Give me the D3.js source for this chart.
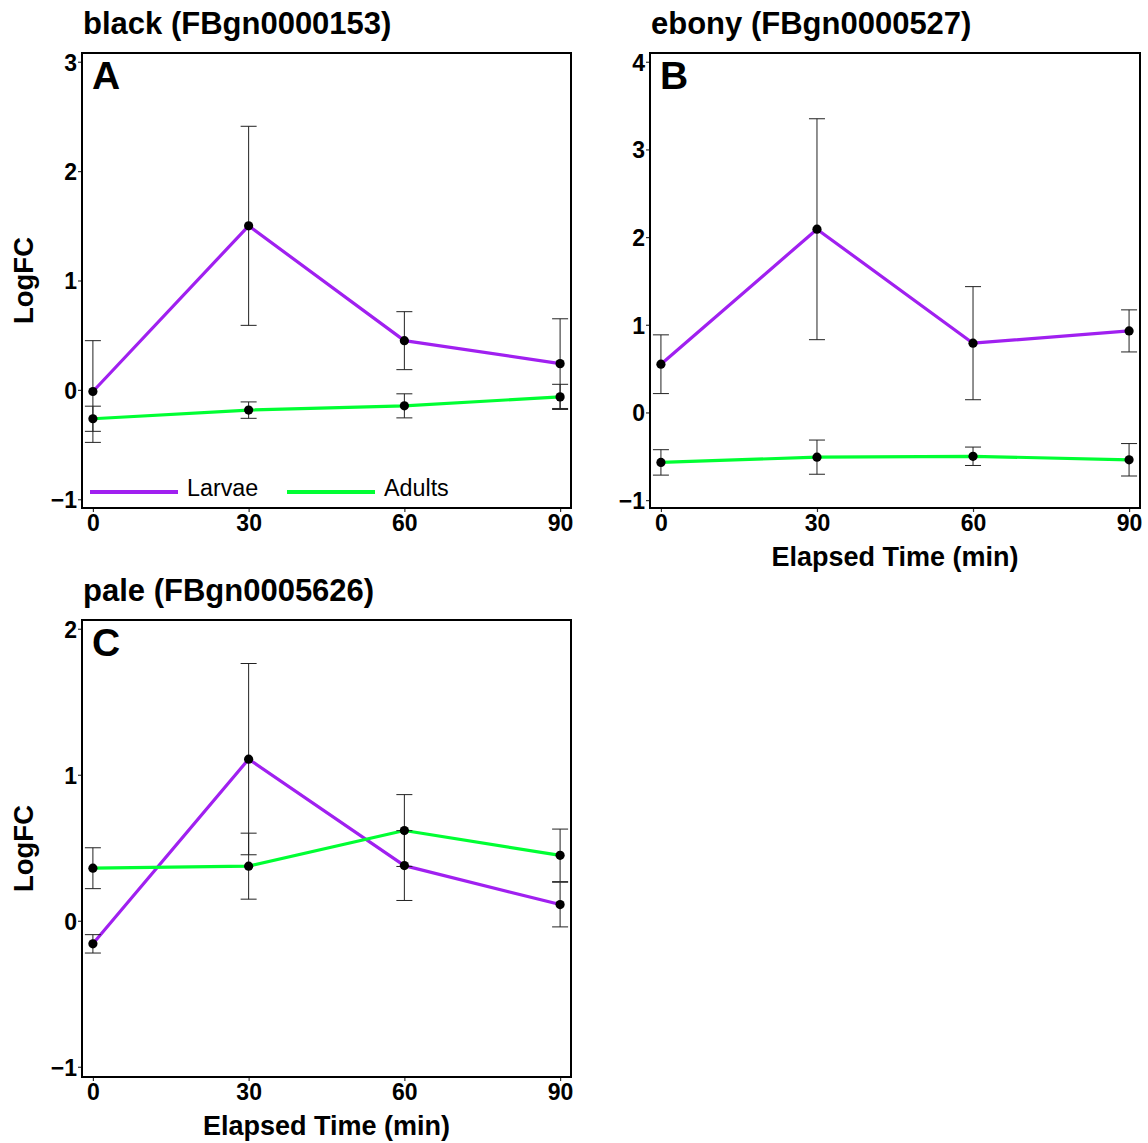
<!DOCTYPE html>
<html>
<head>
<meta charset="utf-8">
<script src="https://cdn.jsdelivr.net/npm/d3@7"></script>
<style>
  html, body { margin: 0; padding: 0; background: #fff; }
  svg { display: block; font-family: "Liberation Sans", Arial, sans-serif; }
</style>
</head>
<body>
<svg id="chart" width="1148" height="1143"></svg>
<script>
// ---- data ----
const times = [0, 30, 60, 90];
const xTicks = [0, 30, 60, 90];
const seriesNames = ["Larvae", "Adults"];
const seriesColors = ["#a020f0", "#00ff33"];

const blackLarvae    = [-0.015, 1.50, 0.45, 0.24];
const blackLarvaeErr = [0.465, 0.91, 0.265, 0.41];
const blackAdults    = [-0.264, -0.185, -0.146, -0.064];
const blackAdultsErr = [0.115, 0.075, 0.11, 0.115];

const ebonyLarvae    = [0.55, 2.09, 0.79, 0.93];
const ebonyLarvaeErr = [0.335, 1.26, 0.645, 0.24];
const ebonyAdults    = [-0.57, -0.51, -0.50, -0.54];
const ebonyAdultsErr = [0.145, 0.195, 0.105, 0.185];

const paleLarvae     = [-0.158, 1.107, 0.378, 0.111];
const paleLarvaeErr  = [0.063, 0.655, 0.239, 0.153];
const paleAdults     = [0.36, 0.374, 0.618, 0.448];
const paleAdultsErr  = [0.14, 0.226, 0.246, 0.18];

const yTicksA = [-1, 0, 1, 2, 3];
const yTicksB = [-1, 0, 1, 2, 3, 4];
const yTicksC = [-1, 0, 1, 2];

const panels = [
  { title: "black (FBgn0000153)", letter: "A", x0: 82, x1: 571, y0: 53, y1: 508,
    yDomain: [-1.08, 3.08], yTicks: yTicksA, ylab: true, xlab: false, legend: true,
    larvae: blackLarvae, larvaeErr: blackLarvaeErr, adults: blackAdults, adultsErr: blackAdultsErr },
  { title: "ebony (FBgn0000527)", letter: "B", x0: 650, x1: 1140, y0: 53, y1: 508,
    yDomain: [-1.09, 4.10], yTicks: yTicksB, ylab: false, xlab: true, legend: false,
    larvae: ebonyLarvae, larvaeErr: ebonyLarvaeErr, adults: ebonyAdults, adultsErr: ebonyAdultsErr },
  { title: "pale (FBgn0005626)", letter: "C", x0: 82, x1: 571, y0: 620, y1: 1077,
    yDomain: [-1.07, 2.06], yTicks: yTicksC, ylab: true, xlab: true, legend: false,
    larvae: paleLarvae, larvaeErr: paleLarvaeErr, adults: paleAdults, adultsErr: paleAdultsErr }
];

const svg = d3.select("#chart");

panels.forEach(p => {
  const x = d3.scaleLinear().domain([-2.1, 92.1]).range([p.x0, p.x1]);
  const y = d3.scaleLinear().domain(p.yDomain).range([p.y1, p.y0]);
  const g = svg.append("g");

  // title
  g.append("text").attr("x", p.x0 + 1).attr("y", p.y0 - 19)
    .attr("font-size", 31).attr("font-weight", "bold").attr("fill", "#000")
    .text(p.title);

  // axes
  const xAxis = d3.axisBottom(x).tickValues(xTicks).tickSize(4).tickPadding(2).tickFormat(d3.format("d"));
  const yAxis = d3.axisLeft(y).tickValues(p.yTicks).tickSize(4).tickPadding(1)
    .tickFormat(d => d < 0 ? "\u2212" + Math.abs(d) : String(d));

  const gx = g.append("g").attr("transform", `translate(0,${p.y1})`).call(xAxis);
  const gy = g.append("g").attr("transform", `translate(${p.x0},0)`).call(yAxis);
  [gx, gy].forEach(a => {
    a.select(".domain").remove();
    a.selectAll(".tick line").attr("stroke", "#333").attr("stroke-width", 1.2);
    a.selectAll(".tick text").attr("fill", "#000").attr("font-size", 23)
      .attr("font-weight", "bold").attr("font-family", "Liberation Sans, Arial, sans-serif");
  });
  gx.selectAll(".tick text").attr("dy", "0.75em");
  gy.selectAll(".tick text").attr("dy", "0.36em");

  // lines
  const line = d3.line().x((d, i) => x(times[i])).y(d => y(d));
  const sets = [
    { vals: p.larvae, err: p.larvaeErr, color: seriesColors[0] },
    { vals: p.adults, err: p.adultsErr, color: seriesColors[1] }
  ];
  sets.forEach(s => {
    g.append("path").datum(s.vals).attr("d", line)
      .attr("fill", "none").attr("stroke", s.color).attr("stroke-width", 3.2)
      .attr("stroke-linejoin", "round");
  });

  // error bars
  sets.forEach(s => {
    const eb = g.append("g").attr("stroke", "#222").attr("stroke-width", 1);
    s.vals.forEach((v, i) => {
      const cx = x(times[i]);
      const hi = y(v + s.err[i]), lo = y(v - s.err[i]);
      eb.append("line").attr("x1", cx).attr("x2", cx).attr("y1", hi).attr("y2", lo);
      eb.append("line").attr("x1", cx - 8).attr("x2", cx + 8).attr("y1", hi).attr("y2", hi);
      eb.append("line").attr("x1", cx - 8).attr("x2", cx + 8).attr("y1", lo).attr("y2", lo);
    });
  });

  // points
  sets.forEach(s => {
    g.selectAll(null).data(s.vals).enter().append("circle")
      .attr("cx", (d, i) => x(times[i])).attr("cy", d => y(d))
      .attr("r", 4.6).attr("fill", "#000");
  });

  // frame
  g.append("rect").attr("x", p.x0).attr("y", p.y0)
    .attr("width", p.x1 - p.x0).attr("height", p.y1 - p.y0)
    .attr("fill", "none").attr("stroke", "#000").attr("stroke-width", 2);

  // panel letter
  g.append("text").attr("x", p.x0 + 10).attr("y", p.y0 + 36)
    .attr("font-size", 39).attr("font-weight", "bold").attr("fill", "#000")
    .text(p.letter);

  if (p.ylab) {
    g.append("text")
      .attr("transform", `translate(${p.x0 - 49},${(p.y0 + p.y1) / 2}) rotate(-90)`)
      .attr("text-anchor", "middle").attr("font-size", 27.5).attr("font-weight", "bold")
      .attr("fill", "#000").text("LogFC");
  }
  if (p.xlab) {
    g.append("text").attr("x", (p.x0 + p.x1) / 2).attr("y", p.y1 + 58)
      .attr("text-anchor", "middle").attr("font-size", 27).attr("font-weight", "bold")
      .attr("fill", "#000").text("Elapsed Time (min)");
  }

  if (p.legend) {
    const ly = p.y1 - 16;
    const items = [
      { name: seriesNames[0], color: seriesColors[0], x: p.x0 + 8 },
      { name: seriesNames[1], color: seriesColors[1], x: p.x0 + 205 }
    ];
    items.forEach(it => {
      g.append("line").attr("x1", it.x).attr("x2", it.x + 88)
        .attr("y1", ly).attr("y2", ly)
        .attr("stroke", it.color).attr("stroke-width", 4);
      g.append("text").attr("x", it.x + 97).attr("y", ly + 4)
        .attr("font-size", 23.3).attr("fill", "#000").text(it.name);
    });
  }
});
</script>
</body>
</html>
